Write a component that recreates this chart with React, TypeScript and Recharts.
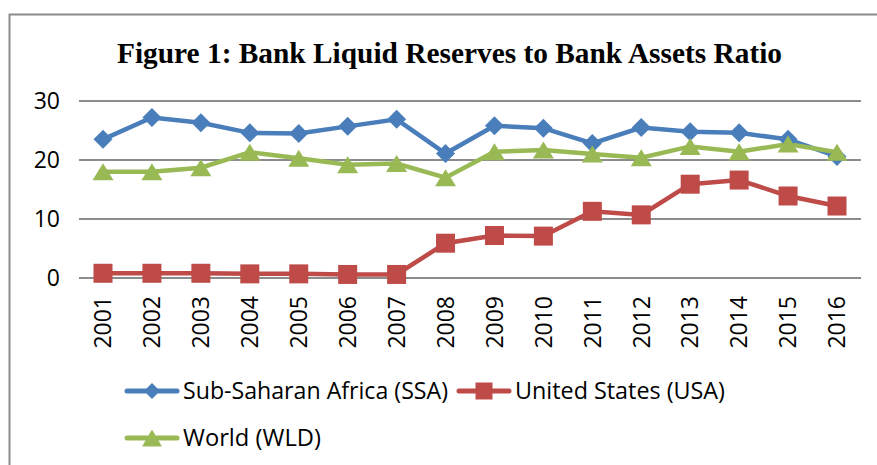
import { LineChart, Line, XAxis, YAxis, CartesianGrid } from 'recharts';

const years = ['2001', '2002', '2003', '2004', '2005', '2006', '2007', '2008', '2009', '2010', '2011', '2012', '2013', '2014', '2015', '2016'];
const ssa = [23.5, 27.2, 26.3, 24.6, 24.5, 25.7, 26.9, 21.1, 25.8, 25.4, 22.8, 25.5, 24.8, 24.6, 23.5, 20.6];
const usa = [0.8, 0.8, 0.8, 0.7, 0.7, 0.6, 0.6, 5.9, 7.2, 7.1, 11.3, 10.7, 15.9, 16.6, 13.9, 12.2];
const wld = [18.0, 18.0, 18.7, 21.3, 20.3, 19.2, 19.4, 17.0, 21.4, 21.7, 21.0, 20.4, 22.3, 21.4, 22.7, 21.3];
const yTicks = [0, 10, 20, 30];

const BLUE = '#4A7EBB';
const RED = '#BE4B48';
const GREEN = '#98B954';
const FONT = '"Open Sans", "DejaVu Sans", sans-serif';

const data = years.map((year, i) => ({ year, ssa: ssa[i], usa: usa[i], wld: wld[i] }));

const diamond = (cx: number, cy: number, r: number) =>
  `M${cx},${cy - r}L${cx + r},${cy}L${cx},${cy + r}L${cx - r},${cy}Z`;
const square = (cx: number, cy: number, r: number) =>
  `M${cx - r},${cy - r}H${cx + r}V${cy + r}H${cx - r}Z`;
const triangle = (cx: number, cy: number, w: number, h: number) =>
  `M${cx},${cy - h / 2}L${cx + w / 2},${cy + h / 2}L${cx - w / 2},${cy + h / 2}Z`;

const DiamondDot = (p: any) => <path key={`d${p.index}`} d={diamond(p.cx, p.cy, 9.5)} fill={BLUE} />;
const SquareDot = (p: any) => <path key={`s${p.index}`} d={square(p.cx, p.cy, 9.5)} fill={RED} />;
const TriangleDot = (p: any) => <path key={`t${p.index}`} d={triangle(p.cx, p.cy, 21, 17)} fill={GREEN} />;

const YearTick = (p: any) => (
  <g transform={`translate(${p.x},${p.y})`}>
    <text transform="rotate(-90)" textAnchor="end" x={0} y={0} dy="0.36em" fontSize={23} fontFamily={FONT} fill="#000">
      {p.payload.value}
    </text>
  </g>
);

function LegendItem({ x, y, kind, color, label, width }: { x: number; y: number; kind: string; color: string; label: string; width: number }) {
  const mx = x + 27;
  let marker = '';
  if (kind === 'diamond') marker = diamond(mx, y, 8);
  if (kind === 'square') marker = square(mx, y, 8.5);
  if (kind === 'triangle') marker = triangle(mx, y, 20, 17);
  return (
    <g>
      <line x1={x + 2} y1={y} x2={x + 52} y2={y} stroke={color} strokeWidth={5} strokeLinecap="round" />
      <path d={marker} fill={color} />
      <text x={x + 58} y={y} dy="0.36em" fontSize={23.5} fontFamily={FONT} fill="#000" textLength={width} lengthAdjust="spacingAndGlyphs">
        {label}
      </text>
    </g>
  );
}

export default function App() {
  return (
    <div style={{ position: 'absolute', left: 0, top: 0, width: 877, height: 465, background: '#fff', overflow: 'hidden' }}>
      <LineChart width={877} height={465} data={data} margin={{ top: 101, right: 16, bottom: 0, left: 0 }}>
        <CartesianGrid horizontal vertical={false} stroke="#8c8c8c" strokeWidth={2} />
        <XAxis
          dataKey="year"
          height={187}
          axisLine={false}
          tickLine={false}
          tickSize={0}
          tickMargin={18}
          interval={0}
          padding={{ left: 24, right: 24 }}
          tick={<YearTick />}
        />
        <YAxis
          width={79}
          domain={[0, 30]}
          ticks={yTicks}
          axisLine={false}
          tickLine={false}
          tickSize={0}
          tickMargin={19}
          tick={{ fontSize: 23, fontFamily: FONT, fill: '#000' }}
        />
        <Line dataKey="ssa" stroke={BLUE} strokeWidth={4.5} dot={DiamondDot} isAnimationActive={false} />
        <Line dataKey="usa" stroke={RED} strokeWidth={4.5} dot={SquareDot} isAnimationActive={false} />
        <Line dataKey="wld" stroke={GREEN} strokeWidth={4.5} dot={TriangleDot} isAnimationActive={false} />
      </LineChart>
      <svg width={877} height={465} style={{ position: 'absolute', left: 0, top: 0, pointerEvents: 'none' }}>
        <path d="M9.5,465V14.5H877" fill="none" stroke="#8c8c8c" strokeWidth={2} />
        <text x={117} y={63} fontSize={30} fontWeight="bold" fontFamily='"Liberation Serif", "Times New Roman", serif' textLength={665} lengthAdjust="spacingAndGlyphs" fill="#000">
          Figure 1: Bank Liquid Reserves to Bank Assets Ratio
        </text>
        <LegendItem x={125} y={391} kind="diamond" color={BLUE} label="Sub-Saharan Africa (SSA)" width={265} />
        <LegendItem x={457} y={391} kind="square" color={RED} label="United States (USA)" width={210} />
        <LegendItem x={125} y={438} kind="triangle" color={GREEN} label="World (WLD)" width={138} />
      </svg>
    </div>
  );
}
